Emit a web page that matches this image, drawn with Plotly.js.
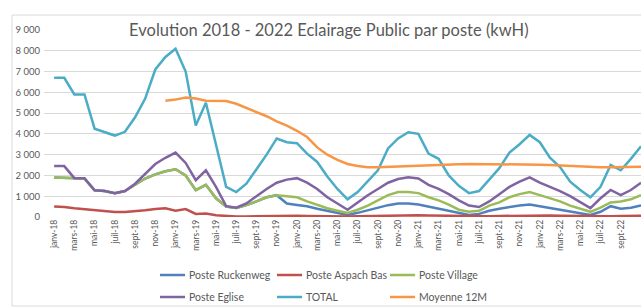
<!DOCTYPE html>
<html>
<head>
<meta charset="utf-8">
<script src="https://cdn.plot.ly/plotly-3.0.1.min.js"></script>
<style>html,body{margin:0;padding:0;background:#fff;}#chart{width:641px;height:308px;}</style>
</head>
<body>
<div id="chart"></div>
<script>
const months = [
  "janv-18","févr-18","mars-18","avr-18","mai-18","juin-18","juil-18","août-18","sept-18","oct-18","nov-18","déc-18",
  "janv-19","févr-19","mars-19","avr-19","mai-19","juin-19","juil-19","août-19","sept-19","oct-19","nov-19","déc-19",
  "janv-20","févr-20","mars-20","avr-20","mai-20","juin-20","juil-20","août-20","sept-20","oct-20","nov-20","déc-20",
  "janv-21","févr-21","mars-21","avr-21","mai-21","juin-21","juil-21","août-21","sept-21","oct-21","nov-21","déc-21",
  "janv-22","févr-22","mars-22","avr-22","mai-22","juin-22","juil-22","août-22","sept-22","oct-22","nov-22"
];

const posteRuckenweg = [1900,1880,1850,1850,1290,1250,1150,1250,1550,1850,2050,2200,
  2300,2000,1290,1550,900,500,430,570,750,950,1050,650,
  580,520,400,300,200,100,200,330,450,570,650,650,
  600,500,420,320,200,100,150,300,400,480,550,600,
  500,430,350,250,180,100,250,520,400,450,550];

const posteAspachBas = [500,480,420,380,320,280,240,240,270,320,380,420,
  300,380,150,170,80,40,30,30,40,50,60,60,
  60,50,40,30,30,30,40,50,60,70,80,80,
  80,70,60,50,40,30,30,40,50,60,70,80,
  80,70,60,50,40,30,30,40,50,60,60];

const posteVillage = [1900,1880,1850,1850,1290,1250,1150,1250,1550,1850,2050,2200,
  2300,2000,1290,1550,900,500,430,570,750,950,1050,1000,
  950,750,570,420,300,190,350,550,800,1050,1200,1200,
  1150,950,800,600,350,250,300,550,700,950,1100,1200,
  1050,900,750,550,400,250,450,700,750,850,1050];

const posteEglise = [2450,2450,1870,1870,1290,1250,1150,1250,1600,2100,2550,2850,
  3100,2600,1770,2250,1450,520,450,650,1000,1350,1650,1800,
  1870,1650,1350,950,650,350,700,1050,1350,1650,1830,1910,
  1850,1550,1350,1100,800,550,480,750,1100,1450,1700,1910,
  1650,1450,1250,1000,700,430,900,1300,1050,1300,1650];

const total = [6700,6700,5900,5900,4250,4100,3920,4100,4800,5700,7100,7700,
  8100,7000,4400,5500,3500,1450,1200,1600,2300,3000,3780,3600,
  3550,3050,2650,1950,1350,850,1200,1700,2250,3300,3780,4080,
  4000,3050,2800,2000,1500,1150,1250,1800,2350,3100,3500,3950,
  3600,2850,2400,1700,1300,950,1450,2500,2250,2800,3400];

const moyenne12M = [5600,
  5650,5750,5700,5600,5600,5580,5450,5250,5050,4850,4600,4400,
  4150,3850,3350,3000,2750,2550,2450,2400,2400,2420,2450,2470,
  2490,2500,2510,2530,2540,2550,2550,2550,2550,2550,2540,2530,
  2520,2500,2480,2450,2430,2400,2400,2400,2400,2400,2420];

const seriesNames = ["Poste Ruckenweg","Poste Aspach Bas","Poste Village","Poste Eglise","TOTAL","Moyenne 12M"];
const seriesColors = ["#4F81BD","#C0504D","#9BBB59","#8064A2","#4BACC6","#F79646"];

const FONT = "Lato, 'Open Sans', sans-serif";
const TXT = "#595959";

const seriesData = [posteRuckenweg, posteAspachBas, posteVillage, posteEglise, total, moyenne12M];
const traces = seriesData.map((vals, k) => ({
  type: "scatter",
  mode: "lines",
  name: seriesNames[k],
  x: months.slice(months.length - vals.length),
  y: vals,
  line: {color: seriesColors[k], width: 2.5},
  showlegend: false,
  hoverinfo: "skip"
}));

// Legend (3 columns x 2 rows), placed in paper coordinates below the plot
const legCols = [0.1943, 0.3903, 0.5796];
const legRows = [-0.3102, -0.4278];
const legLen = 0.042;
const legendShapes = [];
const legendAnnots = [];
seriesNames.forEach((nm, k) => {
  const cx = legCols[k % 3], cy = legRows[Math.floor(k / 3)];
  legendShapes.push({type: "line", xref: "paper", yref: "paper",
    x0: cx, x1: cx + legLen, y0: cy, y1: cy,
    line: {color: seriesColors[k], width: 2.5}});
  legendAnnots.push({xref: "paper", yref: "paper", x: cx + legLen + 0.004, y: cy,
    xanchor: "left", yanchor: "middle", showarrow: false, text: nm,
    font: {family: FONT, size: 10.5, color: TXT}});
});

const layout = {
  width: 641, height: 308,
  margin: {l: 44, r: 0, t: 30, b: 91, pad: 0},
  paper_bgcolor: "#ffffff", plot_bgcolor: "#ffffff",
  separators: ", ",
  showlegend: false,
  title: {
    text: "Evolution 2018 - 2022 Eclairage Public par poste (kwH)",
    x: 0.513, xanchor: "center", y: 0.9026, yanchor: "middle",
    font: {family: FONT, size: 16.5, color: TXT}
  },
  xaxis: {
    type: "category", categoryorder: "array", categoryarray: months,
    range: [-1, 58],
    tickmode: "array", tickvals: months.filter((m, i) => i % 2 === 0 && i <= 56),
    tickangle: -90, ticks: "", showgrid: false, zeroline: false, showline: false,
    tickfont: {family: FONT, size: 8.5, color: TXT},
    automargin: false, fixedrange: true
  },
  yaxis: {
    range: [0, 9000], dtick: 1000, tick0: 0, tickformat: ",d",
    showgrid: true, gridcolor: "#d9d9d9", gridwidth: 1, zeroline: false, showline: false,
    ticks: "", ticklabelstandoff: 3, automargin: false,
    tickfont: {family: FONT, size: 9.5, color: TXT},
    fixedrange: true
  },
  annotations: legendAnnots,
  shapes: [
    {type: "rect", xref: "paper", yref: "paper", x0: -0.0536, x1: 1.2, y0: -0.476, y1: 1.08,
     line: {color: "#d9d9d9", width: 1}, fillcolor: "rgba(0,0,0,0)", layer: "below"},
    {type: "rect", xref: "paper", yref: "paper", x0: 0.139, x1: 0.819, y0: 0.975, y1: 1.025,
     line: {width: 0}, fillcolor: "#ffffff", layer: "above"}
  ].concat(legendShapes)
};

Plotly.newPlot("chart", traces, layout, {staticPlot: true, displayModeBar: false});
</script>
</body>
</html>
